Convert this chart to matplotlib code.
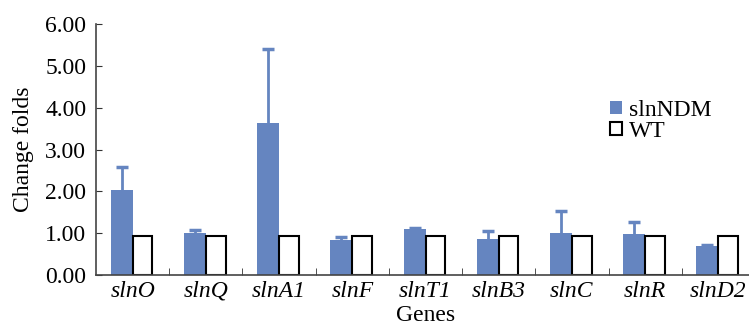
import numpy as np
import matplotlib
matplotlib.use("Agg")
import matplotlib.pyplot as plt

plt.rcParams['font.family'] = ['Liberation Serif', 'DejaVu Serif']

genes = ['slnO', 'slnQ', 'slnA1', 'slnF', 'slnT1', 'slnB3', 'slnC', 'slnR', 'slnD2']
ndm = [2.03, 1.00, 3.63, 0.84, 1.09, 0.86, 1.01, 0.98, 0.69]
ndm_err = [0.55, 0.08, 1.77, 0.06, 0.03, 0.18, 0.53, 0.29, 0.02]
wt = [0.93, 0.93, 0.93, 0.93, 0.93, 0.93, 0.93, 0.93, 0.93]

blue = '#6585c0'
fs = 17
fig = plt.figure(figsize=(7.49, 3.27), dpi=100)
ax = fig.add_axes([96 / 749, 52 / 327, 659 / 749, 251 / 327])

x = np.arange(len(genes))
w = 0.3
ax.bar(x - w, ndm, w, align='edge', color=blue, label='slnNDM')
ax.bar(x, wt, 0.27, align='edge', color='white', edgecolor='black',
       linewidth=1.5, label='WT')

# upper error bars only, no cap at the bar top
top = np.array(ndm) + np.array(ndm_err)
ax.vlines(x - w / 2, ndm, top, color=blue, linewidth=2)
ax.plot(x - w / 2, top, ls='none', marker='_', ms=8, mew=2.5, color=blue)

ax.set_xlim(-0.5, 8.5)
ax.set_ylim(0, 6)
ax.set_yticks(np.arange(0, 6.01, 1))
ax.set_yticklabels(['%.2f' % v for v in np.arange(0, 6.01, 1)], fontsize=fs)
ax.set_xticks(x)
ax.set_xticklabels(genes, fontsize=fs, style='italic')
ax.tick_params(axis='x', length=0, pad=4)
ax.set_xticks(x[:-1] + 0.5, minor=True)
ax.tick_params(axis='x', which='minor', direction='in', length=5, color='#333333')
ax.tick_params(axis='y', direction='in', length=4, color='#333333', pad=7)

for s in ['top', 'right']:
    ax.spines[s].set_visible(False)
for s in ['left', 'bottom']:
    ax.spines[s].set_color('#444444')
    ax.spines[s].set_linewidth(1.2)

ax.set_ylabel('Change folds', fontsize=fs, labelpad=8)
ax.set_xlabel('Genes', fontsize=fs, va='top')
ax.xaxis.set_label_coords(0.5, -0.12)

ax.legend(loc='upper left', bbox_to_anchor=(0.799, 0.73),
          bbox_transform=fig.transFigure, frameon=False, fontsize=fs,
          handlelength=0.5, handleheight=0.5, handletextpad=0.3,
          labelspacing=0.0, borderpad=0)

fig.savefig('out.png', dpi=100)
